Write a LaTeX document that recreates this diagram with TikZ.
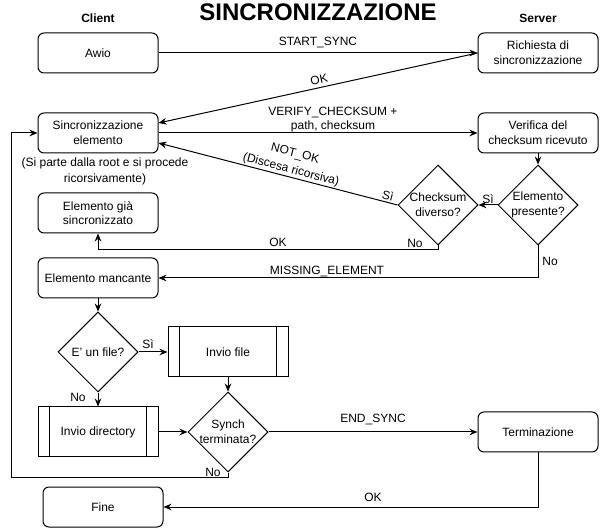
\documentclass[tikz,border=0pt]{standalone}
\usepackage{fontspec}
\setmainfont{Liberation Sans}
\usetikzlibrary{shapes.geometric,arrows.meta}
\begin{document}
\begin{tikzpicture}[x=0.75pt,y=-0.75pt,
  font=\fontsize{9}{11}\selectfont,
  line width=0.75pt,
  box/.style={draw, rounded corners=4.5pt, minimum width=90pt, minimum height=30pt, inner sep=0pt, align=center},
  proc/.style={draw, minimum width=90pt, minimum height=37.5pt, inner sep=0pt, align=center},
  dia/.style={draw, diamond, minimum width=60pt, minimum height=60pt, inner sep=0pt, aspect=1},
  txt/.style={inner sep=0pt, align=center},
  lbl/.style={inner sep=0pt, align=center},
  arr/.style={-{Stealth[length=6pt,width=5pt]}}]
\useasboundingbox (0,0) rectangle (610,530);

% headings
\node[txt, font=\fontsize{18}{20}\selectfont\bfseries] (title) at (318,12.5) {SINCRONIZZAZIONE};
\node[txt, font=\fontsize{9}{11}\selectfont\bfseries] (client) at (98,18) {Client};
\node[txt, font=\fontsize{9}{11}\selectfont\bfseries] (server) at (538,18) {Server};

% boxes
\node[box] (awio) at (98,53) {Awio};
\node[box] (rich) at (538,53) {Richiesta di\\sincronizzazione};
\node[box] (sinc) at (98,133) {Sincronizzazione\\elemento};
\node[txt, font=\fontsize{9}{12}\selectfont] (note) at (105,171.5) {(Si parte dalla root e si procede\\ricorsivamente)};
\node[box] (ver) at (538,133) {Verifica del\\checksum ricevuto};
\node[box] (egs) at (98,213) {Elemento già\\sincronizzato};
\node[box] (em) at (98,278) {Elemento mancante};
\node[box] (term) at (538,432) {Terminazione};
\node[box] (fine) at (103,507) {Fine};

% diamonds
\node[dia] (ep) at (538,205) {};
\node[txt] (eptxt) at (ep) {Elemento\\presente?};
\node[dia] (cd) at (438,205) {};
\node[txt] (cdtxt) at (cd) {Checksum\\diverso?};
\node[dia] (euf) at (98,352) {};
\node[txt] (euftxt) at (euf) {E' un file?};
\node[dia] (st) at (228,432) {};
\node[txt] (sttxt) at (st) {Synch\\terminata?};

% process boxes
\node[proc] (if) at (228,352) {Invio file};
\draw ([xshift=9pt]if.north west) -- ([xshift=9pt]if.south west);
\draw ([xshift=-9pt]if.north east) -- ([xshift=-9pt]if.south east);
\node[proc] (id) at (98,432) {Invio directory};
\draw ([xshift=9pt]id.north west) -- ([xshift=9pt]id.south west);
\draw ([xshift=-9pt]id.north east) -- ([xshift=-9pt]id.south east);

% connectors
\draw[arr] (awio) -- (rich);
\node[lbl] (l1) at (318,43) {START\_SYNC};

\draw[arr] (rich.west) -- ([yshift=7.5pt]sinc.east);
\node[lbl, rotate=12.3] (l2) at (319,80) {OK};

\draw[arr] (sinc) -- (ver);
\node[lbl] (l3) at (333,119.5) {VERIFY\_CHECKSUM +\\path, checksum};

\draw[arr] (ver) -- (ep);

\draw[arr] (ep) -- (cd);
\node[lbl] (l4) at (488,199) {Sì};

\draw[arr] (cd.west) -- ([yshift=-7.5pt]sinc.east);
\node[lbl, rotate=-14.5] (l5a) at (295,154) {NOT\_OK};
\node[lbl, rotate=-14.5] (l5b) at (291,170) {(Discesa ricorsiva)};
\node[lbl, rotate=-14.5] (l6) at (388,196) {Sì};

\draw[arr] (cd.south) -- (438,250) -| (egs.south);
\node[lbl] (l7) at (278,242) {OK};
\node[lbl] (l8) at (415,243) {No};

\draw[arr] (ep.south) |- (em.east);
\node[lbl] (l9) at (550,261) {No};
\node[lbl] (l10) at (327,272) {MISSING\_ELEMENT};

\draw[arr] (em) -- (euf);
\draw[arr] (euf) -- (if);
\node[lbl] (l11) at (148,344) {Sì};
\draw[arr] (euf) -- (id);
\node[lbl] (l12) at (78,397) {No};
\draw[arr] (if) -- (st);
\draw[arr] (id) -- (st);

\draw[arr] (st) -- (term);
\node[lbl] (l13) at (373,420) {END\_SYNC};

\draw[arr] (st.south) -- (228,477) -- (11,477) |- (sinc.west);
\node[lbl] (l14) at (213,472) {No};

\draw[arr] (term.south) |- (fine.east);
\node[lbl] (l15) at (373,497) {OK};
\end{tikzpicture}
\end{document}
